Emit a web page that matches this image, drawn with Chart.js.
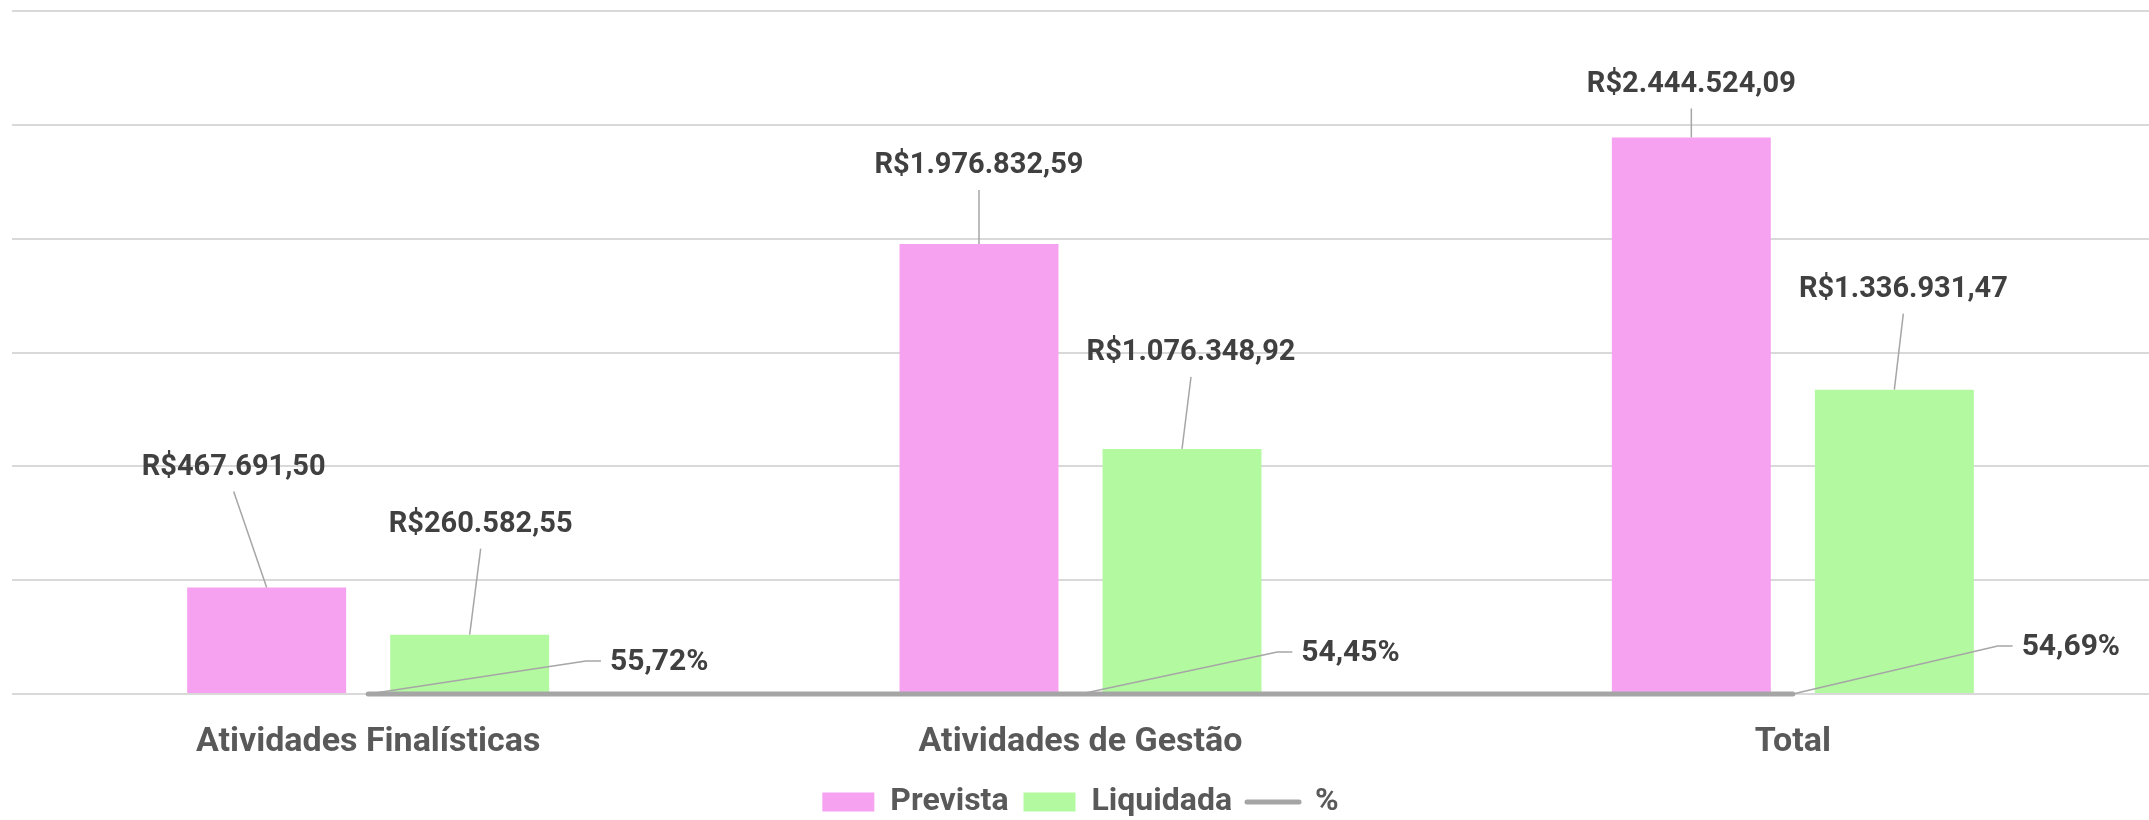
<!DOCTYPE html>
<html>
<head>
<meta charset="utf-8">
<script src="https://cdn.jsdelivr.net/npm/chart.js@4.4.1/dist/chart.umd.min.js"></script>
<style>
  html, body { margin: 0; padding: 0; background: #ffffff; }
  #caixa { width: 2149px; height: 820px; position: relative; }
</style>
</head>
<body>
<div id="caixa"><canvas id="grafico"></canvas></div>
<script>
'use strict';

// dados do grafico
var categorias = ['Atividades Finalísticas', 'Atividades de Gestão', 'Total'];
var prevista = [467691.50, 1976832.59, 2444524.09];
var liquidada = [260582.55, 1076348.92, 1336931.47];
var percentual = [0.5572, 0.5445, 0.5469];
var eixoMax = 3000000;
var eixoPasso = 500000;

// posicao dos rotulos (dx, dy em px a partir do topo da barra / ponto)
var offPrevista = [[-33, 120], [0, 78], [0, 53]];
var offLiquidada = [[11, 110], [9, 96], [9, 100]];
var offPct = [[291, 31], [270, 40], [278, 46]];

var fonte = "Roboto, 'Noto Sans', sans-serif";

function moeda(v) {
    var partes = v.toFixed(2).split('.');
    var inteiro = partes[0].replace(/\B(?=(\d{3})+(?!\d))/g, '.');
    return 'R$' + inteiro + ',' + partes[1];
}
function pct(v) {
    return (v * 100).toFixed(2).replace('.', ',') + '%';
}

var offsets = [offPrevista, offLiquidada, offPct];
var formatos = [moeda, moeda, pct];

////////////////////////////////////////////////////
// plugin: rotulos de dados com linha de chamada
var rotulos = {
    id: 'rotulos',
    afterDatasetsDraw: function (chart) {
        var ctx = chart.ctx;
        chart.data.datasets.forEach(function (ds, i) {
            var meta = chart.getDatasetMeta(i);
            meta.data.forEach(function (el, j) {
                var off = offsets[i][j];
                var lx = el.x + off[0];
                var ly = el.y - off[1];
                var txt = formatos[i](ds.data[j]);
                var linha = ds.type === 'line';
                ctx.save();
                ctx.font = 'bold ' + (linha ? 30 : 29) + 'px ' + fonte;
                ctx.strokeStyle = '#A6A6A6';
                ctx.lineWidth = 1.5;
                ctx.beginPath();
                if (linha) {
                    var esq = lx - ctx.measureText(txt).width / 2;
                    ctx.moveTo(el.x, el.y);
                    ctx.lineTo(esq - 24, ly - 2);
                    ctx.lineTo(esq - 9, ly - 2);
                } else {
                    ctx.moveTo(lx, ly + 24);
                    ctx.lineTo(el.x, el.y);
                }
                ctx.stroke();
                ctx.fillStyle = '#404040';
                ctx.textAlign = 'center';
                ctx.textBaseline = 'middle';
                ctx.fillText(txt, lx, ly);
                ctx.restore();
            });
        });
    }
};

var ctx = document.getElementById('grafico').getContext('2d');
new Chart(ctx, {
    type: 'bar',
    data: {
        labels: categorias,
        datasets: [
            {
                label: 'Prevista',
                data: prevista,
                backgroundColor: '#F7A1F1',
                categoryPercentage: 0.57,
                barPercentage: 0.783,
                order: 1
            },
            {
                label: 'Liquidada',
                data: liquidada,
                backgroundColor: '#B3F9A0',
                categoryPercentage: 0.57,
                barPercentage: 0.783,
                order: 1
            },
            {
                type: 'line',
                label: '%',
                data: percentual,
                borderColor: '#A5A5A5',
                backgroundColor: '#A5A5A5',
                borderWidth: 5,
                borderCapStyle: 'round',
                pointRadius: 0,
                clip: false,
                order: 0
            }
        ]
    },
    options: {
        responsive: true,
        maintainAspectRatio: false,
        animation: false,
        layout: { padding: { top: 11, left: 12, right: 0, bottom: 0 } },
        scales: {
            x: {
                grid: { display: false, drawTicks: false },
                border: { display: false },
                ticks: {
                    color: '#595959',
                    padding: 28,
                    maxRotation: 0,
                    font: { family: fonte, size: 34, weight: 'bold', lineHeight: 1.2 }
                },
                afterFit: function (scale) {
                    scale.height = 77;
                }
            },
            y: {
                min: 0,
                max: eixoMax,
                ticks: { display: false, stepSize: eixoPasso },
                border: { display: false },
                grid: { color: '#D9D9D9', lineWidth: 2, drawTicks: false }
            }
        },
        plugins: {
            tooltip: { enabled: false },
            legend: {
                position: 'bottom',
                maxHeight: 49,
                labels: {
                    usePointStyle: true,
                    pointStyleWidth: 52,
                    boxHeight: 19,
                    padding: 15,
                    color: '#595959',
                    font: { family: fonte, size: 32, weight: 'bold' },
                    generateLabels: function (chart) {
                        return chart.data.datasets.map(function (ds, i) {
                            var linha = ds.type === 'line';
                            return {
                                text: ds.label,
                                fillStyle: linha ? 'rgba(0,0,0,0)' : ds.backgroundColor,
                                strokeStyle: linha ? ds.borderColor : ds.backgroundColor,
                                lineWidth: linha ? 5 : 0,
                                lineCap: 'round',
                                pointStyle: linha ? 'line' : 'rect',
                                hidden: false,
                                datasetIndex: i,
                                fontColor: '#595959'
                            };
                        });
                    }
                }
            }
        }
    },
    plugins: [rotulos]
});
</script>
</body>
</html>
